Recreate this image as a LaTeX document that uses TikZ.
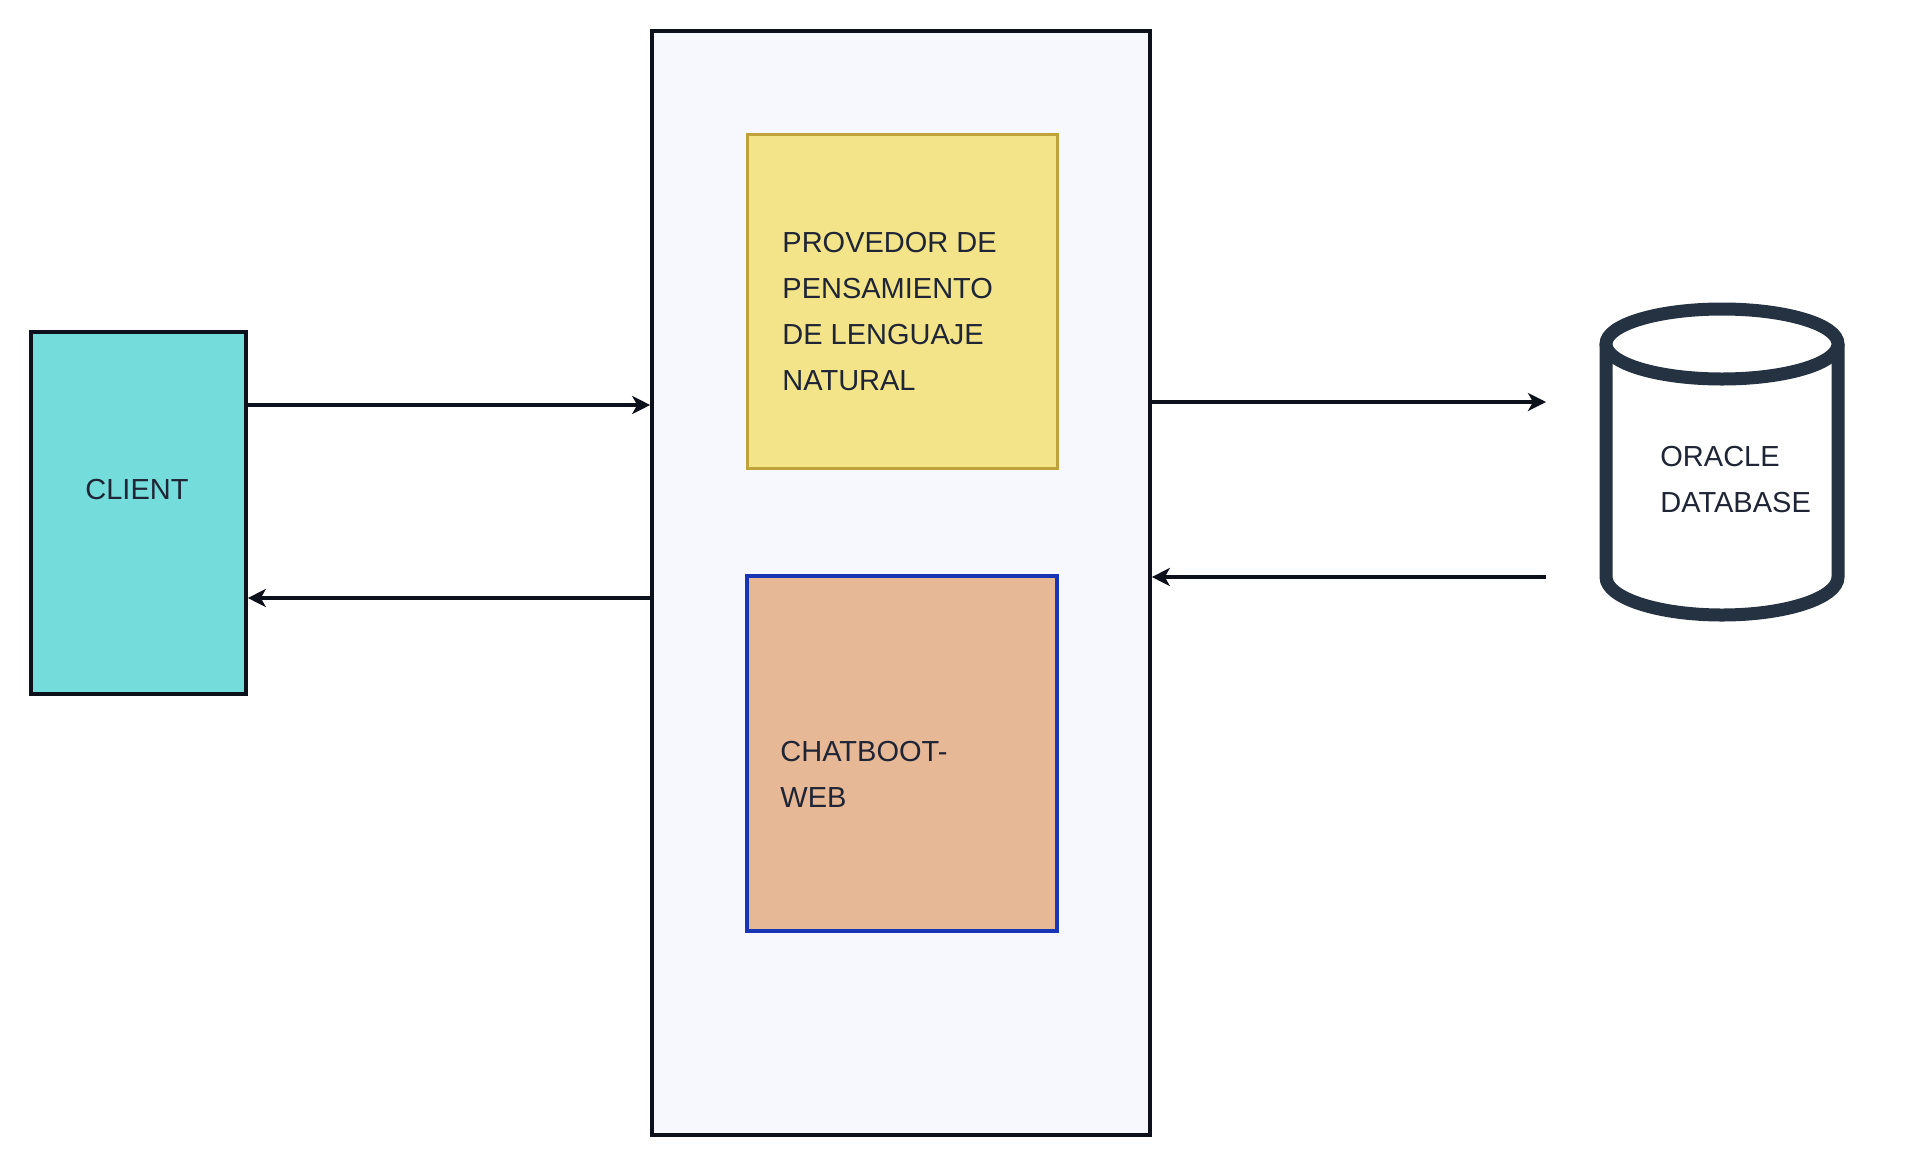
\documentclass[tikz,border=0pt]{standalone}
\usepackage{fontspec}
\setmainfont{Liberation Sans}
\usetikzlibrary{arrows.meta}
\definecolor{panelgray}{HTML}{F6F8FD}
\definecolor{clientcyan}{HTML}{74DDDC}
\definecolor{provyellow}{HTML}{F3E48A}
\definecolor{provgold}{HTML}{BFA23A}
\definecolor{chatpeach}{HTML}{E6B896}
\definecolor{chatblue}{HTML}{1735B4}
\definecolor{inkblack}{HTML}{0D111C}
\definecolor{inkblue}{HTML}{1F2535}
\definecolor{dbslate}{HTML}{253241}

\begin{document}
\begin{tikzpicture}[x=0.5pt,y=-0.5pt,
		box/.style={draw=inkblack, line width=1.8pt, inner sep=0pt},
		txt/.style={text=inkblue, font=\fontsize{14.5}{23}\selectfont, inner sep=0pt, align=left},
		flow/.style={draw=inkblack, line width=1.6pt, -{Stealth[length=9pt,width=9pt,inset=2.5pt]}}]
			\fill [white] (0,0) rectangle (1926,1167);
			\useasboundingbox (0,0) rectangle (1926,1167);
			\node [box, fill=panelgray, minimum width=249pt, minimum height=552pt] (server) at (901,583) {};
			\node [box, fill=clientcyan, minimum width=107.5pt, minimum height=181pt] (client) at (138.5,513) {};
			\node [box, draw=provgold, line width=1.5pt, fill=provyellow, minimum width=155pt, minimum height=167pt] (prov) at (902,301) {};
			\node [box, draw=chatblue, line width=1.7pt, fill=chatpeach, minimum width=155pt, minimum height=177.5pt] (chat) at (902,753.5) {};
			\node [txt] (clienttxt) at (137,490) {CLIENT};
			\node [txt, anchor=north west] (provtxt) at (782,232) {PROVEDOR DE\\PENSAMIENTO\\DE LENGUAJE\\NATURAL};
			\node [txt, anchor=north west] (chattxt) at (780,741) {CHATBOOT-\\WEB};
			\draw [dbslate, line width=6.5pt, fill=white] (1606,344) -- (1606,577) arc [start angle=180, end angle=360, x radius=58pt, y radius=19pt] -- (1838,344);
			\draw [dbslate, line width=6.5pt, fill=white] (1722,344) ellipse [x radius=58pt, y radius=17.5pt];
			\node [txt, anchor=north west] (dbtxt) at (1660,446) {ORACLE\\DATABASE};
			\coordinate (reqout) at ([yshift=54pt]client.east);
			\coordinate (resin) at ([yshift=-42.5pt]client.east);
			\coordinate (qout) at ([yshift=90.5pt]server.east);
			\coordinate (qin) at ([yshift=3pt]server.east);
			\coordinate (dbq) at (1546,402);
			\coordinate (dbr) at (1546,577);
			\draw [flow] (reqout) -- (reqout -| server.west);
			\draw [flow] (resin -| server.west) -- (resin);
			\draw [flow] (qout) -- (dbq);
			\draw [flow] (dbr) -- (qin);
		\end{tikzpicture}
\end{document}
